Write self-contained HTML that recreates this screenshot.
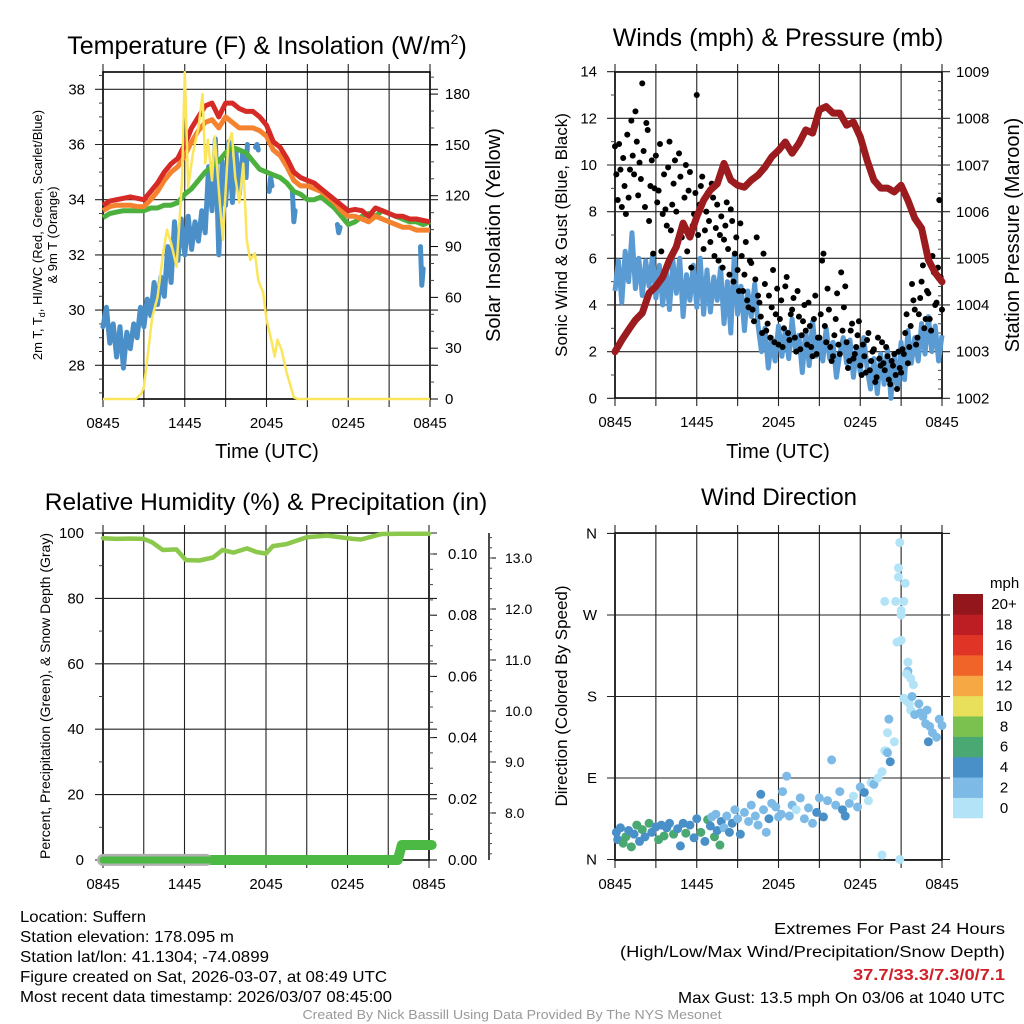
<!DOCTYPE html>
<html><head><meta charset="utf-8"><style>
html,body{margin:0;padding:0;background:#fff;}
svg{display:block;font-family:"Liberation Sans",sans-serif;}
</style></head><body>
<svg id="fig" width="1024" height="1024" viewBox="0 0 1024 1024" xmlns="http://www.w3.org/2000/svg">
<rect x="0" y="0" width="1024" height="1024" fill="#fff"/>
<text x="267" y="54" font-size="25" text-anchor="middle">Temperature (F) &amp; Insolation (W/m<tspan dy="-10" font-size="14">2</tspan><tspan dy="10">)</tspan></text>
<text x="778" y="46" font-size="25" text-anchor="middle">Winds (mph) &amp; Pressure (mb)</text>
<text x="266" y="510" font-size="24.5" text-anchor="middle">Relative Humidity (%) &amp; Precipitation (in)</text>
<text x="779" y="505" font-size="24" text-anchor="middle">Wind Direction</text>
<text x="267" y="458" font-size="20" text-anchor="middle">Time (UTC)</text>
<text x="778" y="458" font-size="20" text-anchor="middle">Time (UTC)</text>
<text transform="translate(42,235) rotate(-90)" font-size="13" text-anchor="middle">2m T, T<tspan font-size="9" dy="3">d</tspan><tspan dy="-3">, HI/WC (Red, Green, Scarlet/Blue)</tspan></text>
<text transform="translate(57,235) rotate(-90)" font-size="13" text-anchor="middle">&amp; 9m T (Orange)</text>
<text transform="translate(500,235) rotate(-90)" font-size="20" text-anchor="middle">Solar Insolation (Yellow)</text>
<text transform="translate(567,235) rotate(-90)" font-size="17" text-anchor="middle">Sonic Wind &amp; Gust (Blue, Black)</text>
<text transform="translate(1019,235) rotate(-90)" font-size="20" text-anchor="middle">Station Pressure (Maroon)</text>
<text transform="translate(50,696) rotate(-90)" font-size="14" text-anchor="middle">Percent, Precipitation (Green), &amp; Snow Depth (Gray)</text>
<text transform="translate(567,696) rotate(-90)" font-size="17" text-anchor="middle">Direction (Colored By Speed)</text>
<g font-size="16">
<text x="20" y="922" textLength="126" lengthAdjust="spacingAndGlyphs">Location: Suffern</text>
<text x="20" y="942" textLength="214" lengthAdjust="spacingAndGlyphs">Station elevation: 178.095 m</text>
<text x="20" y="962" textLength="249" lengthAdjust="spacingAndGlyphs">Station lat/lon: 41.1304; -74.0899</text>
<text x="20" y="982" textLength="367" lengthAdjust="spacingAndGlyphs">Figure created on Sat, 2026-03-07, at 08:49 UTC</text>
<text x="20" y="1002" textLength="372" lengthAdjust="spacingAndGlyphs">Most recent data timestamp: 2026/03/07 08:45:00</text>
</g>
<g font-size="16" text-anchor="end">
<text x="1005" y="934" textLength="231" lengthAdjust="spacingAndGlyphs">Extremes For Past 24 Hours</text>
<text x="1005" y="957" textLength="385" lengthAdjust="spacingAndGlyphs">(High/Low/Max Wind/Precipitation/Snow Depth)</text>
<text x="1005" y="980" fill="#d0202a" font-weight="bold" textLength="152" lengthAdjust="spacingAndGlyphs">37.7/33.3/7.3/0/7.1</text>
<text x="1005" y="1003" textLength="327" lengthAdjust="spacingAndGlyphs">Max Gust: 13.5 mph On 03/06 at 1040 UTC</text>
</g>
<text x="512" y="1019" font-size="13" fill="#999" text-anchor="middle" textLength="419" lengthAdjust="spacingAndGlyphs">Created By Nick Bassill Using Data Provided By The NYS Mesonet</text>
<g id="plots"></g>
</svg>
<script>
// ---- data (time in hours since 0845 UTC) ----
const halfHours = [0,0.5,1,1.5,2,2.5,3,3.5,4,4.5,5,5.5,6,6.5,7,7.5,8,8.5,9,9.5,10,10.5,11,11.5,12,12.5,13,13.5,14,14.5,15,15.5,16,16.5,17,17.5,18,18.5,19,19.5,20,20.5,21,21.5,22,22.5,23,23.5,24];
const tempRed = [33.8,33.95,34.0,34.05,34.1,34.05,34.0,34.3,34.6,35.0,35.3,35.5,36.0,36.6,37.0,37.4,37.5,37.0,37.5,37.5,37.3,37.2,37.2,37.0,36.7,36.1,35.9,35.5,35.0,34.8,34.7,34.6,34.4,34.2,34.0,33.8,33.6,33.65,33.6,33.4,33.7,33.6,33.5,33.4,33.4,33.3,33.3,33.25,33.2];
const tempOrange = [33.6,33.75,33.8,33.8,33.8,33.75,33.75,34.0,34.3,34.7,35.0,35.2,35.6,36.1,36.5,36.8,36.9,36.6,37.0,36.8,36.6,36.6,36.6,36.5,36.3,35.8,35.6,35.2,34.7,34.5,34.5,34.4,34.3,34.1,33.9,33.6,33.4,33.4,33.3,33.2,33.4,33.3,33.2,33.1,33.0,33.0,32.9,32.9,32.9];
const dewGreen = [33.35,33.5,33.55,33.6,33.6,33.6,33.6,33.7,33.7,33.8,33.8,33.9,34.2,34.4,34.7,35.0,35.2,35.4,35.7,35.9,35.8,35.7,35.4,35.1,35.0,34.9,34.8,34.6,34.3,34.2,34.0,34.0,34.1,33.9,33.7,33.4,33.1,33.2,33.4,33.5,33.4,33.6,33.5,33.4,33.3,33.2,33.2,33.1,33.2];
const chillT = [0,0.25,0.5,0.75,1,1.25,1.5,1.75,2,2.25,2.5,2.75,3,3.25,3.5,3.75,4,4.25,4.5,4.75,5,5.25,5.5,5.75,6,6.25,6.5,6.75,7,7.25,7.5,7.75,8,8.25,8.5,8.75,9,9.25,9.5,9.75,10,10.25,10.5,10.6,11.1,11.2,11.3,11.4,12.1,12.2,12.3,12.4,13.4,13.9,14.0,14.1,17.1,17.2,17.3,17.4,23.2,23.3,23.4,23.5];
const chillV = [29.4,30.1,28.8,29.5,28.3,29.4,27.9,29.2,28.6,29.5,29.0,30.1,29.4,30.4,29.8,31.0,30.2,31.2,30.5,32.3,31.0,33.2,31.8,33.3,32.0,33.4,32.2,33.2,32.5,33.6,32.8,35.2,33.6,36.2,32.0,35.4,33.8,36.1,33.9,35.8,34.2,35.7,34.8,36.0,null,35.9,36.0,35.8,null,34.3,34.8,34.5,null,34.3,33.2,33.6,null,33.1,32.8,33.0,null,32.3,30.9,31.5];
const insT = [0,2.4,2.8,3.0,3.3,3.6,4.0,4.4,4.7,5.0,5.4,5.8,6.0,6.25,6.6,7.0,7.3,7.5,7.7,8.0,8.2,8.6,8.8,9.2,9.45,9.7,10.0,10.3,10.55,10.8,11.15,11.4,11.75,12.0,12.4,12.6,12.8,13.1,13.5,14.0,14.3,24];
const insV = [0,0,3,7,27,48,60,85,100,92,78,129,193,125,145,160,180,139,153,129,155,113,94,151,157,131,116,139,94,82,86,70,63,47,33,25,35,29,15,1,0,0];
const windT = []; for (let i=0;i<=96;i++) windT.push(i*0.25);
const windV = [4.6,5.9,4.1,6.3,5.0,7.1,4.7,6.0,4.4,5.9,4.8,6.1,4.3,5.7,4.0,5.5,3.8,5.9,4.5,6.0,3.5,5.3,4.2,5.7,3.9,6.0,3.6,5.5,3.7,5.2,4.2,5.6,3.2,5.0,2.8,6.1,3.6,4.8,2.9,4.6,3.5,4.9,3.1,2.0,3.0,1.3,2.6,1.6,3.1,1.8,2.9,1.7,3.4,2.0,2.7,1.1,2.9,1.4,3.3,1.8,2.6,1.6,3.0,1.7,2.4,0.9,1.9,2.6,1.5,2.5,0.9,2.2,1.1,2.6,1.3,0.4,1.7,0.2,1.9,0.6,2.1,0.0,1.8,0.4,2.4,0.8,2.9,1.5,2.6,1.6,3.2,1.9,3.5,2.0,3.1,1.6,2.7];
const gustT = []; for (let i=0;i<=120;i++) gustT.push(i*0.2);
const gustV = [10.8,8.5,9.8,10.3,7.9,8.6,11.9,9.6,11.0,10.1,13.5,8.2,11.5,9.1,6.2,10.4,8.9,6.3,9.6,7.4,11.0,8.3,10.2,6.8,9.5,7.5,10.0,8.9,5.6,7.9,13.0,8.3,9.5,7.2,8.8,6.7,8.6,7.3,5.9,7.8,6.8,8.4,5.3,7.6,6.2,5.5,7.5,4.6,6.7,3.9,5.8,3.3,6.9,4.1,2.8,4.9,3.2,2.6,5.5,3.6,2.3,4.2,3.0,5.2,2.5,3.8,2.6,4.6,2.1,3.3,2.9,4.1,2.2,3.4,1.9,2.6,5.9,3.1,4.7,2.2,1.8,3.4,2.3,5.4,3.9,2.4,1.6,3.2,1.9,2.7,1.4,2.3,1.1,2.8,1.6,2.1,0.9,1.7,2.4,1.2,1.8,0.6,1.4,1.0,2.0,1.1,1.9,3.6,2.2,4.9,3.8,2.6,4.3,5.7,3.4,4.5,2.9,5.4,4.1,8.5,3.8];
const gust2T = []; for (let i=0;i<120;i++) gust2T.push(i*0.2+0.1);
const gust2V = [9.6,10.9,8.2,9.1,11.3,9.8,10.4,12.3,8.7,9.4,10.6,11.8,7.6,10.2,9.0,8.4,10.9,7.9,8.1,9.9,7.2,9.2,8.0,10.5,6.9,8.6,6.3,9.7,7.4,8.8,7.0,9.1,6.4,8.0,7.6,9.2,6.1,8.3,7.0,5.6,7.4,6.4,8.1,5.0,6.9,4.6,6.1,5.3,4.2,5.9,3.8,5.1,4.4,3.5,6.2,2.9,4.4,3.9,2.4,4.7,3.4,2.2,4.8,2.8,3.6,4.3,2.0,3.5,2.7,4.0,2.3,3.1,1.8,4.4,2.6,3.6,6.2,2.4,3.8,1.6,2.7,4.5,1.9,2.9,4.8,1.3,2.9,1.7,2.2,3.3,1.0,1.8,2.5,1.2,2.0,0.7,2.6,1.4,1.5,2.2,0.8,1.6,1.9,0.4,1.3,2.1,2.8,1.5,3.1,4.2,2.3,3.6,5.0,3.0,4.6,3.4,6.1,4.0,5.6,5.2];
const pressT = halfHours;
const pressV = [1003.0,1003.25,1003.47,1003.68,1003.83,1004.26,1004.4,1004.6,1004.97,1005.25,1005.76,1005.46,1005.9,1006.25,1006.47,1006.6,1007.04,1006.68,1006.57,1006.53,1006.68,1006.79,1006.96,1007.18,1007.32,1007.5,1007.26,1007.47,1007.76,1007.69,1008.19,1008.26,1008.12,1008.12,1007.86,1007.93,1007.61,1007.11,1006.68,1006.51,1006.51,1006.43,1006.57,1006.25,1005.86,1005.65,1004.97,1004.69,1004.5];
const rhT = [0,1,2,3,3.6,4.4,5.4,6.1,7.1,8.1,8.8,9.6,10.6,11.3,12.0,12.5,13.5,15,16.5,18.4,19,20.5,22,24];
const rhV = [98.4,98.2,98.3,98.2,97.2,94.8,95.0,91.7,91.6,92.5,94.8,94.0,95.3,94.2,93.7,96.0,96.6,98.7,99.2,98.2,98.0,99.7,99.8,99.8];
const precipT = [0,21.7,22.0,24.2];
const precipV = [0,0,0.0049,0.0049];
const snowT = [0,7.6];
const snowV = [7.08,7.08];
const dirT = [0.1,0.2,0.4,0.6,0.8,1.0,1.2,1.4,1.6,1.8,2.0,2.2,2.5,2.7,3.0,3.2,3.4,3.6,3.8,4.0,4.3,4.6,4.8,5.0,5.2,5.5,5.8,6.0,6.3,6.6,6.8,7.0,7.1,7.3,7.5,7.7,7.4,7.8,8.0,8.2,8.4,8.6,8.8,9.0,9.2,9.5,9.8,10.0,10.3,10.5,10.7,10.9,11.1,11.3,11.5,11.8,12.0,12.2,12.3,12.6,12.8,13.0,13.3,13.6,13.9,14.2,14.5,14.8,15.0,15.3,15.6,15.9,16.2,16.5,16.7,16.9,17.2,17.5,17.8,18.0,18.3,18.6,18.8,19.0,19.3,19.6,19.8,20.0,20.2,20.1,20.9,20.8,20.8,21.3,19.8,20.6,21.2,21.0,21.0,20.7,21.0,21.5,21.5,21.7,21.9,21.4,21.2,21.4,21.6,21.8,21.7,22.0,22.3,22.4,22.6,22.8,22.9,23.1,23.3,23.0,23.6,23.8,24.0,20.5,19.9,20.0,19.6,20.9];
const dirV = [30,22,35,18,25,32,14,28,38,20,33,25,40,30,36,22,38,26,35,40,28,34,15,40,29,38,24,45,30,20,44,37,47,25,32,16,50,42,35,48,30,40,55,45,28,52,42,60,48,38,72,55,30,45,62,58,47,50,75,92,48,60,55,68,45,57,40,52,68,47,65,110,60,75,55,48,62,70,58,80,74,65,85,83,90,97,120,140,108,155,350,322,312,305,285,285,285,275,270,240,242,218,208,200,193,205,178,175,172,180,165,160,172,162,158,150,165,147,140,130,135,155,148,130,120,118,5,0];
const dirS = [4,5,4,7,6,4,7,5,6,4,7,4,7,5,4,6,4,7,5,4,6,4,4,5,6,4,4,4,7,4,6,4,2,6,5,6,2,4,2,2,4,4,2,2,4,2,2,2,2,2,4,2,2,4,2,2,2,2,2,2,2,2,0,2,2,2,2,4,2,4,2,2,2,2,4,4,2,0,2,2,4,0,0,2,0,0,0,0,4,2,0,0,0,0,0,0,0,0,0,0,0,0,2,0,0,0,0,0,0,2,0,2,2,2,2,2,2,2,2,4,2,2,2,0,0,2,0,0];
const cbLabels = ["0","2","4","6","8","10","12","14","16","18","20+"];
const cbColors = ["#b3e3f7","#7dbbe6","#4a90c8","#4aa872","#7bc14f","#e8e05a","#f5a843","#f06329","#e03427","#bd1e23","#92161b"];
const xTickLabels = ["0845","1445","2045","0245","0845"];
const tempTicks = [28,30,32,34,36,38];
const insTicks = [0,30,60,90,120,150,180];
const windTicks = [0,2,4,6,8,10,12,14];
const pressTicks = [1002,1003,1004,1005,1006,1007,1008,1009];
const rhTicks = [0,20,40,60,80,100];
const precipTicks = ["0.00","0.02","0.04","0.06","0.08","0.10"];
const snowTicks = ["8.0","9.0","10.0","11.0","12.0","13.0"];
const dirLabels = ["N","E","S","W","N"];

// ---- helpers ----
const NS = "http://www.w3.org/2000/svg";
const root = document.getElementById("plots");
function mk(tag, attrs, parent) {
  const e = document.createElementNS(NS, tag);
  for (const k in attrs) e.setAttribute(k, attrs[k]);
  (parent || root).appendChild(e);
  return e;
}
function txt(x, y, s, size, anchor, parent) {
  const e = mk("text", {x: x, y: y, "font-size": size, "text-anchor": anchor}, parent);
  e.textContent = s;
  return e;
}
function pathFrom(ts, vs, xf, yf) {
  let d = "", pen = false;
  for (let i = 0; i < ts.length; i++) {
    if (vs[i] === null) { pen = false; continue; }
    d += (pen ? "L" : "M") + xf(ts[i]).toFixed(1) + "," + yf(vs[i]).toFixed(1);
    pen = true;
  }
  return d;
}
function frame(x0, x1, y0, y1, name) {
  const g = mk("g", {});
  
  
  const w = x1 - x0;
  for (let k = 0; k <= 8; k++) {
    const x = x0 + k * w / 8;
    const l = mk("line", {x1: x, x2: x, y1: y0 - 8, y2: y1 + 8, stroke: "#222", "stroke-width": 1.1}, g);
    
    
  }
  for (let k = 0; k < 5; k++) {
    const t = txt(x0 + k * w / 4, y1 + 29, xTickLabels[k], 15, "middle", g);
    
    
  }
  const r = mk("rect", {x: x0, y: y0, width: w, height: y1 - y0, fill: "none", stroke: "#000", "stroke-width": 1.6}, g);
  
  
  return g;
}
function hgrid(g, x0, x1, y, name) {
  const l = mk("line", {x1: x0 - 8, x2: x1 + 8, y1: y, y2: y, stroke: "#222", "stroke-width": 1.1}, g);
  
  
}
function minor(g, x, y, dir, len) {
  const l = mk("line", {x1: x, x2: x + dir * len, y1: y, y2: y, stroke: "#444", "stroke-width": 1}, g);
  
  
}

// ---- Panel 1: temperature ----
const P1 = {x0: 103, x1: 430, y0: 72, y1: 399};
const x1f = t => P1.x0 + t / 24 * (P1.x1 - P1.x0);
const yT = v => 89.3 + (38 - v) * 27.6;
const yI = v => 399 - v * 1.694;
const g1 = frame(P1.x0, P1.x1, P1.y0, P1.y1, "temp");
for (const v of tempTicks) {
  hgrid(g1, P1.x0, P1.x1, yT(v), "temp");
  const t = txt(85, yT(v) + 5, String(v), 15, "end", g1);
  
  
}
for (let v = 27; v <= 38.5; v += 0.5) if (v % 2) minor(g1, P1.x0, yT(v), -1, 4);
for (const v of insTicks) {
  const l = mk("line", {x1: P1.x1, x2: P1.x1 + 8, y1: yI(v), y2: yI(v), stroke: "#000"}, g1);
  
  
  const t = txt(445, yI(v) + 5, String(v), 15, "start", g1);
  
  
}
for (let v = 10; v <= 190; v += 10) if (v % 30) minor(g1, P1.x1, yI(v), 1, 4);
const sBlue = mk("path", {d: pathFrom(chillT, chillV, x1f, yT), fill: "none", stroke: "#4a8fc7", "stroke-width": 5, "stroke-linejoin": "round", "stroke-linecap": "round"});


const sGreen = mk("path", {d: pathFrom(halfHours, dewGreen, x1f, yT), fill: "none", stroke: "#4cb03f", "stroke-width": 5, "stroke-linejoin": "round"});


const sOrange = mk("path", {d: pathFrom(halfHours, tempOrange, x1f, yT), fill: "none", stroke: "#f5822f", "stroke-width": 5, "stroke-linejoin": "round"});


const sRed = mk("path", {d: pathFrom(halfHours, tempRed, x1f, yT), fill: "none", stroke: "#d62a27", "stroke-width": 5, "stroke-linejoin": "round"});


const sYel = mk("path", {d: pathFrom(insT, insV, x1f, yI), fill: "none", stroke: "#fbe55b", "stroke-width": 2.5, "stroke-linejoin": "round"});



// ---- Panel 2: winds ----
const P2 = {x0: 615, x1: 942, y0: 72, y1: 398};
const x2f = t => P2.x0 + t / 24 * (P2.x1 - P2.x0);
const yW = v => 398.3 - v * 23.33;
const yP = v => 398.3 - (v - 1002) * 46.6;
const g2 = frame(P2.x0, P2.x1, P2.y0, P2.y1, "wind");
for (const v of windTicks) {
  hgrid(g2, P2.x0, P2.x1, yW(v), "wind");
  const t = txt(597, yW(v) + 5, String(v), 15, "end", g2);
  
  
}
for (let v = 1; v < 14; v += 2) minor(g2, P2.x0, yW(v), -1, 4);
for (const v of pressTicks) {
  const t = txt(956, yP(v) + 5, String(v), 15, "start", g2);
  
  
}
for (let v = 1002.2; v < 1009; v += 0.2) minor(g2, P2.x1, yP(v), -1, 4);
const sWind = mk("path", {d: pathFrom(windT, windV, x2f, yW), fill: "none", stroke: "#5a9bd4", "stroke-width": 5, "stroke-linejoin": "round"});


for (let i = 0; i < gustT.length; i++) {
  const c = mk("circle", {cx: x2f(gustT[i]), cy: yW(gustV[i]), r: 3, fill: "#000"});
  
  
}
for (let i = 0; i < gust2T.length; i++) {
  const c = mk("circle", {cx: x2f(gust2T[i]), cy: yW(gust2V[i]), r: 3, fill: "#000"});
  
  
}
const sPress = mk("path", {d: pathFrom(pressT, pressV, x2f, yP), fill: "none", stroke: "#9b1b1e", "stroke-width": 7, "stroke-linejoin": "round", "stroke-linecap": "round"});



// ---- Panel 3: humidity ----
const P3 = {x0: 103, x1: 429, y0: 533, y1: 860};
const x3f = t => P3.x0 + t / 24 * (P3.x1 - P3.x0);
const yRH = v => 860 - v * 3.27;
const yPr = v => 860 - v * 3060;
const ySn = v => 813 - (v - 8) * 51;
const g3 = frame(P3.x0, P3.x1, P3.y0, P3.y1, "humidity");
for (const v of rhTicks) {
  hgrid(g3, P3.x0, P3.x1, yRH(v), "humidity");
  const t = txt(84, yRH(v) + 5, String(v), 15, "end", g3);
  
  
}
for (let v = 10; v < 100; v += 20) minor(g3, P3.x0, yRH(v), -1, 4);
for (const s of precipTicks) {
  const v = parseFloat(s);
  const l = mk("line", {x1: P3.x1, x2: P3.x1 + 8, y1: yPr(v), y2: yPr(v), stroke: "#000"}, g3);
  
  
  const t = txt(448, yPr(v) + 5, s, 15, "start", g3);
  
  
}
for (let v = 0.005; v < 0.105; v += 0.005) minor(g3, P3.x1, yPr(v), 1, 4);
const snowAx = mk("line", {x1: 489, x2: 489, y1: 533, y2: 860, stroke: "#000", "stroke-width": 1.4}, g3);


for (const s of snowTicks) {
  const v = parseFloat(s);
  const l = mk("line", {x1: 489, x2: 496, y1: ySn(v), y2: ySn(v), stroke: "#000"}, g3);
  
  
  const t = txt(505, ySn(v) + 5, s, 14, "start", g3);
  
  
}
for (let v = 7.2; v < 13.4; v += 0.2) minor(g3, 489, ySn(v), 1, 3);
const sPrecip = mk("path", {d: pathFrom(precipT, precipV, x3f, yPr), fill: "none", stroke: "#4cb944", "stroke-width": 10, "stroke-linecap": "round", "stroke-linejoin": "round"});


const sSnow = mk("path", {d: pathFrom(snowT, snowV, x3f, ySn), fill: "none", stroke: "#b0b0b0", "stroke-width": 12, "stroke-linecap": "round"});


const sPrecipTop = mk("path", {d: pathFrom(precipT, precipV, x3f, yPr), fill: "none", stroke: "#4cb944", "stroke-width": 7, "stroke-linecap": "round", "stroke-linejoin": "round"});


const sRH = mk("path", {d: pathFrom(rhT, rhV, x3f, yRH), fill: "none", stroke: "#8cc84b", "stroke-width": 4.5, "stroke-linejoin": "round", "stroke-linecap": "round"});



// ---- Panel 4: wind direction ----
const P4 = {x0: 615, x1: 942, y0: 533, y1: 860};
const x4f = t => P4.x0 + t / 24 * (P4.x1 - P4.x0);
const yD = v => 859.5 - v * 0.9056;
const g4 = frame(P4.x0, P4.x1, P4.y0, P4.y1, "direction");
for (let k = 0; k < 5; k++) {
  hgrid(g4, P4.x0, P4.x1, yD(k * 90), "direction");
  const t = txt(597, yD(k * 90) + 5, dirLabels[k], 15, "end", g4);
  
  
}
function spdColor(s) { return cbColors[Math.max(0, Math.min(10, Math.floor(s / 2)))]; }
for (let i = 0; i < dirT.length; i++) {
  const c = mk("circle", {cx: x4f(dirT[i]), cy: yD(dirV[i]), r: 4.5, fill: spdColor(dirS[i])});
  
  
}
const gcb = mk("g", {});


const cbTitle = txt(990, 588, "mph", 15, "start", gcb);


const boxH = (818 - 594) / cbColors.length;
for (let i = 0; i < cbColors.length; i++) {
  const j = cbColors.length - 1 - i;
  const r = mk("rect", {x: 953, y: 594 + j * boxH, width: 30, height: boxH + 0.3, fill: cbColors[i]}, gcb);
  
  
  const t = txt(1004, 594 + j * boxH + boxH / 2 + 5, cbLabels[i], 15, "middle", gcb);
  
  
}
</script>
</body></html>
